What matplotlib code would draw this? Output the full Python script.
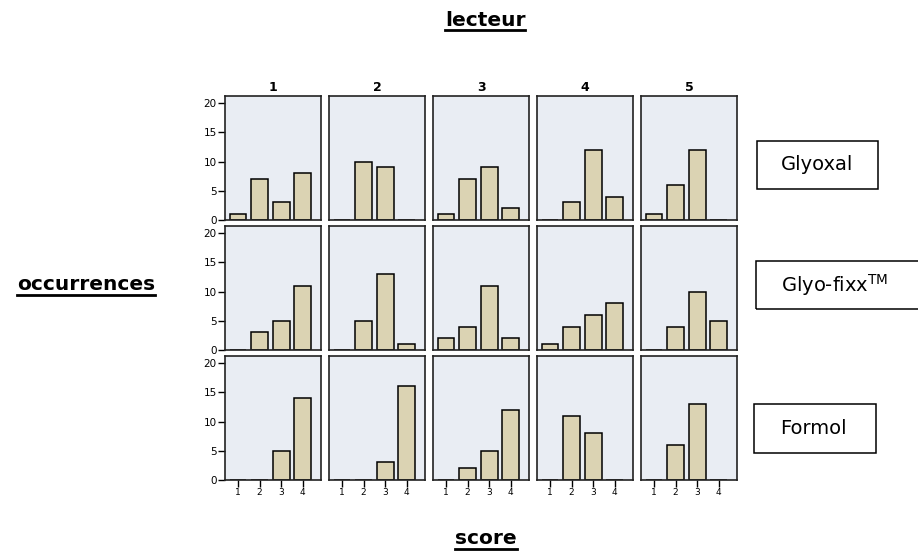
#!/usr/bin/env python3
"""Score distributions per reader (lecteur) and fixative, small-multiple bar grid."""

import matplotlib

matplotlib.use("Agg")
import matplotlib.pyplot as plt
from matplotlib.lines import Line2D
from matplotlib.patches import Rectangle

plt.rcParams.update(
    {
        "font.family": "DejaVu Sans",
        "mathtext.fontset": "dejavusans",
    }
)

READERS = ["1", "2", "3", "4", "5"]
FIXATIVES = ["Glyoxal", "Glyo-fixx$^{\\mathrm{TM}}$", "Formol"]
SCORES = [1, 2, 3, 4]

# occurrences per score (1..4), one list per reader
GLYOXAL = [
    [1, 7, 3, 8],
    [0, 10, 9, 0],
    [1, 7, 9, 2],
    [0, 3, 12, 4],
    [1, 6, 12, 0],
]
GLYOFIXX = [
    [0, 3, 5, 11],
    [0, 5, 13, 1],
    [2, 4, 11, 2],
    [1, 4, 6, 8],
    [0, 4, 10, 5],
]
FORMOL = [
    [0, 0, 5, 14],
    [0, 0, 3, 16],
    [0, 2, 5, 12],
    [0, 11, 8, 0],
    [0, 6, 13, 0],
]
Y_TICKS = [0, 5, 10, 15, 20]

BAR_COLOR = "#DBD3B3"
PANEL_BG = "#E9EDF3"

W, H = 918, 553
fig = plt.figure(figsize=(W / 100, H / 100), dpi=100)

col_left = [225, 329, 433, 537, 641]
row_top = [96, 226, 356]
pw, ph = 96, 124

rows = [GLYOXAL, GLYOFIXX, FORMOL]
for r, data in enumerate(rows):
    for c, counts in enumerate(data):
        ax = fig.add_axes(
            [col_left[c] / W, 1 - (row_top[r] + ph) / H, pw / W, ph / H]
        )
        ax.set_facecolor(PANEL_BG)
        ax.bar(
            SCORES,
            counts,
            width=0.78,
            color=BAR_COLOR,
            edgecolor="black",
            linewidth=1.1,
            zorder=2,
        )
        ax.set_xlim(0.4, 4.84)
        ax.set_ylim(0, 21.2)
        for sp in ax.spines.values():
            sp.set_linewidth(1.2)
            sp.set_color("#222222")

        if c == 0:
            ax.set_yticks(Y_TICKS)
            ax.tick_params(axis="y", direction="out", length=5, width=1.0,
                           labelsize=7.5, pad=1)
        else:
            ax.set_yticks([])

        if r == len(rows) - 1:
            ax.set_xticks(SCORES)
            ax.tick_params(axis="x", direction="out", length=5, width=1.0,
                           labelsize=6.5, pad=1)
        else:
            ax.set_xticks([])

        if r == 0:
            ax.text(0.5, 1.015, READERS[c], transform=ax.transAxes,
                    ha="center", va="bottom", fontsize=9, fontweight="bold")

# row labels in boxes on the right
boxes = [
    (757, 141, 121, 48, 817, 165),
    (756, 261, 170, 48, 835, 285),
    (754, 404, 122, 49, 813, 428),
]
for (bx, by, bw, bh, tx, ty), label in zip(boxes, FIXATIVES):
    fig.patches.append(
        Rectangle((bx / W, 1 - (by + bh) / H), bw / W, bh / H,
                  transform=fig.transFigure, fill=False,
                  edgecolor="black", linewidth=1.1)
    )
    fig.text(tx / W, 1 - ty / H, label, ha="center", va="center", fontsize=14)

# underlined bold axis titles
renderer = fig.canvas.get_renderer()
for x, y, label in ((485, 20, "lecteur"), (86, 285, "occurrences"), (486, 539, "score")):
    t = fig.text(x / W, 1 - y / H, label, ha="center", va="center",
                 fontsize=14.5, fontweight="bold")
    bb = t.get_window_extent(renderer=renderer)
    uy = (bb.y0 - 0.5) / H
    fig.lines.append(
        Line2D([bb.x0 / W, bb.x1 / W], [uy, uy], transform=fig.transFigure,
               color="black", linewidth=2.0)
    )

fig.savefig("out.png", dpi=100, facecolor="white")
